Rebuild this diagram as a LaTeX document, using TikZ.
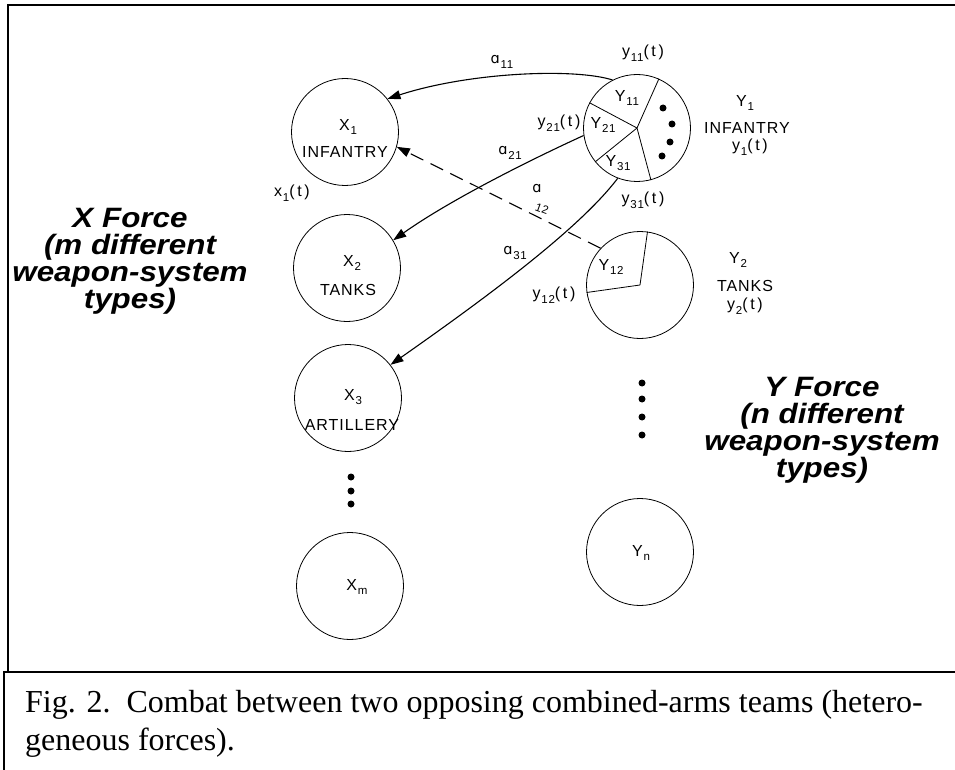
\documentclass[tikz,border=0pt]{standalone}
\usepackage{fontspec}
\setmainfont{Liberation Serif}
\newfontfamily\labfont[LetterSpace=6]{Liberation Sans}
\newfontfamily\forcefont[FakeStretch=1.12]{Liberation Sans}
\newfontfamily\dvfont{DejaVu Sans}
\usetikzlibrary{arrows.meta}
\newcommand\sbs[1]{\kern0.8pt\raisebox{-0.55ex}{\fontsize{11.5}{11.5}\selectfont#1}}
\newcommand\alf{{\dvfont\fontsize{14.5}{14.5}\selectfont ɑ}}
\tikzset{
  circ/.style={circle, draw, line width=0.8pt, minimum size=107pt, inner sep=0pt},
  lbl/.style={font=\labfont\fontsize{16}{17}\selectfont, inner sep=0pt},
  arr/.style={line width=1.1pt, -{Triangle[length=13pt,width=9pt]}},
  dashline/.style={dash pattern=on 14pt off 8pt},
  bigdot/.style={circle, fill, inner sep=0pt, minimum size=7pt},
  force/.style={font=\forcefont\bfseries\itshape\fontsize{28}{27}\selectfont, align=center, inner sep=0pt},
  frameline/.style={line width=2pt},
  pie/.style={line width=0.8pt}
}
\begin{document}
\begin{tikzpicture}[x=1pt,y=-1pt]
\useasboundingbox (0,0) rectangle (955,770);
\fill[white] (0,0) rectangle (955,770);
% frames
\draw[frameline] (8,672) -- (8,5) -- (960,5);
\draw[frameline] (4,780) -- (4,672) -- (960,672);
% circles
\node[circ] (X1) at (345,132) {};
\node[circ] (X2) at (347,268) {};
\node[circ] (X3) at (348,398) {};
\node[circ] (Xm) at (350,586) {};
\node[circ] (Y1) at (637,128) {};
\node[circ] (Y2) at (640,285) {};
\node[circ] (Yn) at (640,552) {};
% pie divisions
\draw[pie] (Y1.center) -- (Y1.152);
\draw[pie] (Y1.center) -- (Y1.66);
\draw[pie] (Y1.center) -- (Y1.285);
\draw[pie] (Y1.center) -- (Y1.219);
\draw[pie] (Y2.center) -- (Y2.82);
\draw[pie] (Y2.center) -- (Y2.188);
% dots
\node[bigdot] (d1) at (663,108) {};
\node[bigdot] (d2) at (672,124) {};
\node[bigdot] (d3) at (670,142) {};
\node[bigdot] (d4) at (662,156) {};
\node[bigdot] (yd1) at (642,383) {};
\node[bigdot] (yd2) at (642,399) {};
\node[bigdot] (yd3) at (642,417) {};
\node[bigdot] (yd4) at (642,435) {};
\node[bigdot] (xd1) at (351,477) {};
\node[bigdot] (xd2) at (351,491) {};
\node[bigdot] (xd3) at (351,504) {};
% X labels
\node[lbl] (tX1) at (348,127) {X\sbs{1}};
\node[lbl] (iX1) at (345,152) {INFANTRY};
\node[lbl] (sx1) at (292,193) {x\sbs{1}(\,t\,)};
\node[lbl] (tX2) at (352,263) {X\sbs{2}};
\node[lbl] (iX2) at (348,290) {TANKS};
\node[lbl] (tX3) at (353,397) {X\sbs{3}};
\node[lbl] (iX3) at (352,425) {ARTILLERY};
\node[lbl] (tXm) at (357,587) {X\sbs{m}};
% Y1 labels
\node[lbl] (tY11) at (627,98) {Y\sbs{11}};
\node[lbl] (tY21) at (603,125) {Y\sbs{21}};
\node[lbl] (tY31) at (618,163) {Y\sbs{31}};
\node[lbl] (sy11) at (643,53) {y\sbs{11}(\,t\,)};
\node[lbl] (sy21) at (559,123) {y\sbs{21}(\,t\,)};
\node[lbl] (sy31) at (643,200) {y\sbs{31}(\,t\,)};
\node[lbl] (rY1) at (745,103) {Y\sbs{1}};
\node[lbl] (rI1) at (747,128) {INFANTRY};
\node[lbl] (ry1) at (750,147) {y\sbs{1}(\,t\,)};
% Y2 labels
\node[lbl] (tY12) at (611,267) {Y\sbs{12}};
\node[lbl] (sy12) at (554,295) {y\sbs{12}(\,t\,)};
\node[lbl] (rY2) at (738,260) {Y\sbs{2}};
\node[lbl] (rT2) at (745,286) {TANKS};
\node[lbl] (ry2) at (745,306) {y\sbs{2}(\,t\,)};
\node[lbl] (tYn) at (641,553) {Y\sbs{n}};
% arrows
\draw[arr] (Y1.117) .. controls (575,68) and (470,72) .. (X1.38);
\draw[arr] (Y1.188) .. controls (530,160) and (450,200) .. (X2.31);
\draw[arr] (Y1.249) .. controls (580,228) and (490,295) .. (X3.38);
\draw[arr, dashline] (Y2.137) -- (X1.-16);
% arrow labels
\node[lbl] (a11) at (502,62) {\alf\sbs{11}};
\node[lbl] (a21) at (510,153) {\alf\sbs{21}};
\node[lbl] (a12a) at (537,189) {\alf};
\node[lbl, rotate=-20] (a12b) at (542,209) {\fontsize{11.5}{11.5}\selectfont 12};
\node[lbl] (a31) at (515,253) {\alf\sbs{31}};
% force texts
\node[force] (xf) at (130,261) {X Force\\(m different\\weapon-system\\types)};
\node[force] (yf) at (822,430) {Y Force\\(n different\\weapon-system\\types)};
% caption
\node[anchor=base west, inner sep=0pt, font=\fontsize{32}{38}\selectfont] (cap1) at (25,712) {Fig. 2.\ \ Combat between two opposing combined-arms teams (hetero-};
\node[anchor=base west, inner sep=0pt, font=\fontsize{32}{38}\selectfont] (cap2) at (25,750) {geneous forces).};
\end{tikzpicture}
\end{document}
